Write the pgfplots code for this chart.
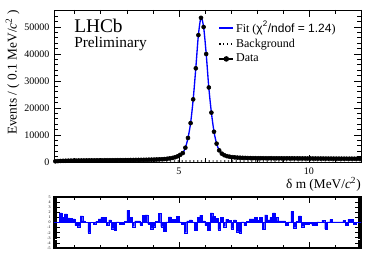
\documentclass[border=0pt]{standalone}
\usepackage{fontspec}
\setmainfont{Liberation Serif}
\newfontfamily\sansf{Liberation Sans}
\usepackage{pgfplots}
\usepackage{pgfplotstable}
\pgfplotsset{compat=1.18}

\pgfplotstableread{
x y
0.25 250
0.35 330
0.45 390
0.55 430
0.65 460
0.75 480
0.85 500
0.95 520
1.05 530
1.15 545
1.25 555
1.35 565
1.45 575
1.55 585
1.65 595
1.75 600
1.85 610
1.95 620
2.05 630
2.15 635
2.25 645
2.35 650
2.45 660
2.55 670
2.65 680
2.75 690
2.85 700
2.95 710
3.05 720
3.15 730
3.25 745
3.35 760
3.45 775
3.55 790
3.65 810
3.75 830
3.85 850
3.95 875
4.05 900
4.15 935
4.25 975
4.35 1030
4.45 1100
4.55 1200
4.65 1330
4.75 1500
4.85 1750
4.95 2100
5.05 2650
5.15 3300
5.25 5300
5.35 8900
5.45 14400
5.55 23200
5.65 34700
5.75 47000
5.85 53400
5.95 50000
6.05 40000
6.15 27600
6.25 18300
6.35 11200
6.45 6800
6.55 4300
6.65 3100
6.75 2500
6.85 2150
6.95 1950
7.05 1800
7.15 1700
7.25 1630
7.35 1580
7.45 1540
7.55 1500
7.65 1470
7.75 1450
7.85 1430
7.95 1410
8.05 1400
8.15 1395
8.25 1388
8.35 1385
8.45 1380
8.55 1376
8.65 1371
8.75 1365
8.85 1360
8.95 1356
9.05 1350
9.15 1344
9.25 1340
9.35 1336
9.45 1330
9.55 1325
9.65 1321
9.75 1315
9.85 1310
9.95 1305
10.05 1300
10.15 1295
10.25 1290
10.35 1286
10.45 1280
10.55 1276
10.65 1270
10.75 1265
10.85 1261
10.95 1255
11.05 1250
11.15 1246
11.25 1240
11.35 1236
11.45 1230
11.55 1226
11.65 1220
11.75 1215
11.85 1211
11.95 1205
}\datatable

\pgfplotstableread{
x y
0.45 1.9
0.55 1.0
0.65 1.7
0.75 0.9
0.85 0.8
0.95 0.7
1.05 -0.6
1.15 -0.8
1.25 1.3
1.35 0.3
1.45 0.0
1.55 -2.0
1.65 0.0
1.75 -0.3
1.85 0.2
1.95 0.7
2.05 1.0
2.15 1.0
2.25 -0.5
2.35 0.5
2.45 -1.2
2.55 -1.5
2.65 0.1
2.75 -0.3
2.85 -0.3
2.95 0.2
3.05 2.4
3.15 1.0
3.25 -0.8
3.35 0.3
3.45 0.3
3.55 -0.5
3.65 1.4
3.75 1.5
3.85 -0.3
3.95 -1.2
4.05 -0.8
4.15 0.2
4.25 1.8
4.35 -0.8
4.45 -1.7
4.55 0.1
4.65 1.1
4.75 0.6
4.85 0.6
4.95 1.2
5.05 0.1
5.15 -0.3
5.25 -2.0
5.35 0.3
5.45 0.5
5.55 0.1
5.65 -1.5
5.75 1.0
5.85 1.4
5.95 0.3
6.05 -0.6
6.15 -1.5
6.25 1.9
6.35 1.2
6.45 0.8
6.55 -1.4
6.65 1.0
6.75 -0.8
6.85 0.6
6.95 0.4
7.05 -1.2
7.15 0.5
7.25 -1.8
7.35 -2.0
7.45 0.1
7.55 -0.6
7.65 0.2
7.75 0.7
7.85 0.7
7.95 1.0
8.05 0.4
8.15 1.0
8.25 -1.3
8.35 1.5
8.45 0.5
8.55 1.0
8.65 1.9
8.75 1.0
8.85 0.3
8.95 0.3
9.05 0.3
9.15 -0.5
9.25 0.1
9.35 2.2
9.45 -1.0
9.55 0.2
9.65 1.3
9.75 -0.8
9.85 -0.4
9.95 -0.4
10.05 -0.2
10.15 -0.5
10.25 -0.5
10.35 0.1
10.45 0.0
10.55 0.4
10.65 -1.3
10.75 0.1
10.85 0.6
10.95 0.1
11.05 0.1
11.15 0.1
11.25 0.1
11.35 0.4
11.45 -0.5
11.55 0.6
11.65 0.6
11.75 -0.4
11.85 0.0
11.95 0.0
}\residtable

\begin{document}
\begin{tikzpicture}[x=1pt,y=1pt]
\path[use as bounding box] (0,0) rectangle (286.5,194.25);
\begin{axis}[
  scale only axis, width=230.25pt, height=114pt,
  at={(40.5pt,72.75pt)}, anchor=south west,
  xmin=0.2, xmax=12, ymin=0, ymax=56300,
  xtick={5,10}, minor xtick={1,2,3,4,6,7,8,9,11,12},
  ytick={0,10000,20000,30000,40000,50000},
  minor ytick={2000,4000,6000,8000,12000,14000,16000,18000,22000,24000,26000,28000,32000,34000,36000,38000,42000,44000,46000,48000,52000,54000,56000},
  tick align=inside, xtick pos=both, ytick pos=both,
  major tick length=5.5pt, minor tick length=2.8pt,
  tick style={black, line width=0.5pt},
  axis line style={line width=0.6pt},
  scaled y ticks=false,
  /pgf/number format/assume math mode=true,
  /pgf/number format/1000 sep={},
  tick label style={font=\fontsize{7.5}{7.5}\selectfont},
  xticklabel style={yshift=-1pt},
  xlabel={δ m (MeV/\textit{c}\textsuperscript{2})},
  xlabel style={at={(axis description cs:1,0)}, anchor=east, yshift=-17pt, inner sep=0pt, font=\fontsize{10}{10}\selectfont},
  ylabel={Events / ( 0.1 MeV/\textit{c}\textsuperscript{2} )},
  ylabel style={at={(axis description cs:-0.135,1)}, anchor=east, inner sep=0pt, font=\fontsize{10}{10}\selectfont},
  legend style={at={(0.535,0.94)}, anchor=north west, draw=none, fill=none, inner sep=0pt,
    font=\fontsize{9}{9}\selectfont, row sep=0.6pt, nodes={inner sep=1.5pt}},
  legend cell align=left,
  legend image code/.code={\draw[mark repeat=2, mark phase=2, #1] plot coordinates {(0pt,0pt) (5.25pt,0pt) (10.5pt,0pt)};},
]
\addlegendimage{blue, line width=1.2pt}
\addlegendentry{\textcolor{black}{Fit ({\sansf χ\textsuperscript{2}/ndof = 1.24})}}
\addlegendimage{black, line width=0.9pt, dotted}
\addlegendentry{\textcolor{black}{Background}}
\addlegendimage{black, line width=0.9pt, mark=*, mark size=1.6pt}
\addlegendentry{\textcolor{black}{Data}}

\addplot[only marks, mark=*, mark size=1.5pt, black, forget plot] table[x=x,y=y] {\datatable};
\addplot[blue, line width=1pt, smooth, tension=0.5, forget plot] table[x=x,y=y] {\datatable};
\addplot[black, line width=0.9pt, dotted, forget plot] coordinates {(0.2,150) (0.5,250) (1,300) (2,340) (4,370) (8,400) (12,420)};
\end{axis}

\node[anchor=west, inner sep=0pt, font=\fontsize{14.5}{14.5}\selectfont] at (55.5,174.5) {LHCb};
\node[anchor=west, inner sep=0pt, font=\fontsize{11.5}{11.5}\selectfont] at (55.5,161.5) {Preliminary};

\begin{axis}[
  scale only axis, width=230.25pt, height=38.25pt,
  at={(40.5pt,8.25pt)}, anchor=south west,
  xmin=0.2, xmax=12, ymin=-5, ymax=5,
  xtick={5,10}, xticklabels={}, minor xtick={1,2,3,4,6,7,8,9,11,12},
  ytick={-5,-4,-3,-2,-1,0,1,2,3,4,5},
  minor y tick num=4,
  tick align=inside, xtick pos=both, ytick pos=both,
  major tick length=4.5pt, minor tick length=2.5pt,
  tick style={black, line width=0.5pt},
  axis line style={line width=0.8pt},
  /pgf/number format/assume math mode=true,
  yticklabel style={font=\fontsize{3}{3}\selectfont, xshift=1pt},
]
\addplot[blue, line width=0.4pt] coordinates {(0.2,0) (12,0)};
\addplot[ybar, bar width=0.1, fill=blue, draw=blue, line width=0.1pt] table[x=x,y=y] {\residtable};
\end{axis}
\end{tikzpicture}
\end{document}
